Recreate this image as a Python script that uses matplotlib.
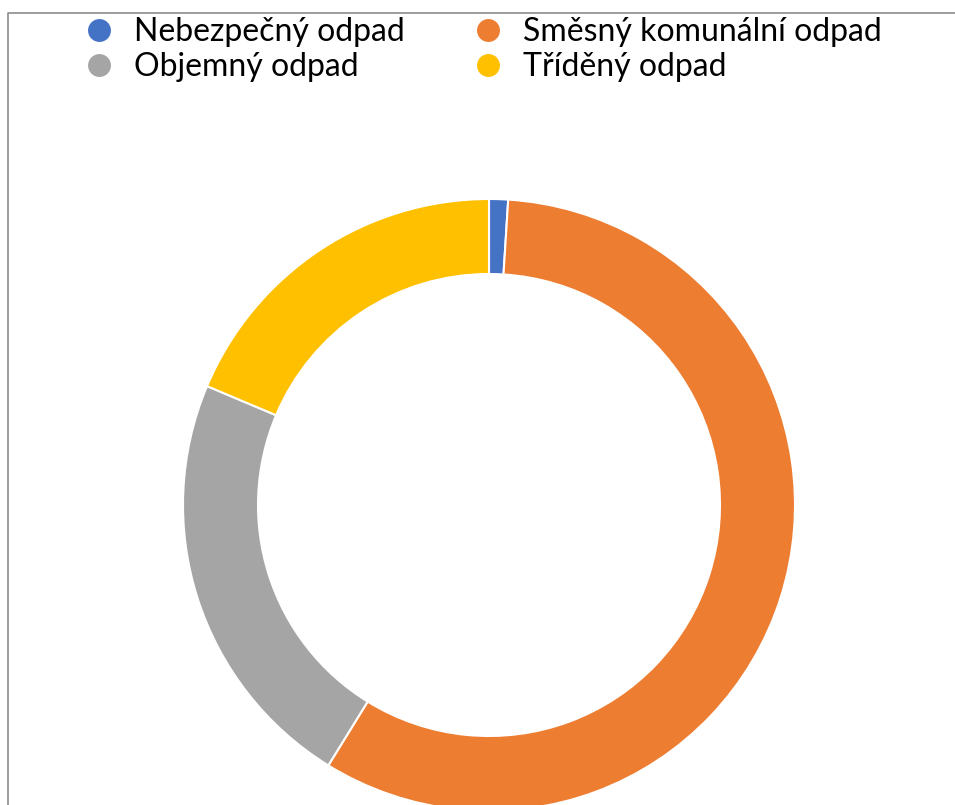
import matplotlib
matplotlib.use("Agg")
import matplotlib.pyplot as plt
from matplotlib.lines import Line2D

# waste categories, in drawing order (clockwise from top)
categories = ["Nebezpečný odpad", "Směsný komunální odpad", "Objemný odpad", "Tříděný odpad"]
shares = [1.0, 57.8, 22.55, 18.65]
colors = ["#4472C4", "#ED7D31", "#A5A5A5", "#FFC000"]

plt.rcParams['font.family'] = ['Lato', 'DejaVu Sans']

W, H = 955, 805
fig = plt.figure(figsize=(W / 100, H / 100), dpi=100)
ax = fig.add_axes([0, 0, 1, 1])
ax.set_xlim(0, W)
ax.set_ylim(0, H)
ax.set_aspect('equal')
ax.axis('off')

# chart area border (cut off at right and bottom)
ax.plot([8, 8, W + 5], [-5, H - 13, H - 13], color="#8c8c8c", lw=1.2)

wedges, _ = ax.pie(shares, colors=colors, startangle=90, counterclock=False,
                   center=(489, H - 505), radius=306, frame=True,
                   wedgeprops=dict(width=75, edgecolor='white', linewidth=1.5))
ax.set_xlim(0, W)
ax.set_ylim(0, H)
ax.axis('off')

# legend: two columns, Nebezpečný/Objemný left, Směsný/Tříděný right
order = [0, 2, 1, 3]
handles = [Line2D([], [], marker='o', linestyle='none', markersize=16.5,
                  markerfacecolor=colors[i], markeredgecolor='none') for i in order]
labels = [categories[i] for i in order]
fig.legend(handles, labels, ncol=2, loc='upper left', bbox_to_anchor=(70 / W, 1 - 4 / H),
           frameon=False, fontsize=23, handletextpad=0.6, columnspacing=2.1,
           labelspacing=0.17, borderaxespad=0.0, handlelength=1.0)

fig.savefig("out.png", dpi=100)
